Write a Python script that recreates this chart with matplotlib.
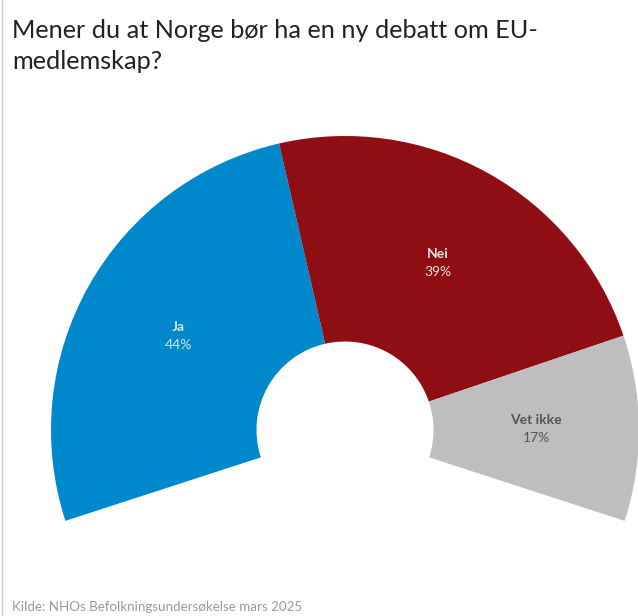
import matplotlib
matplotlib.use("Agg")
import matplotlib.pyplot as plt
import numpy as np

categories = ["Ja", "Nei", "Vet ikke"]
values = [44, 39, 17]
labels_pct = ["44%", "39%", "17%"]
colors = ["#0088CC", "#8E0E14", "#BEBEBE"]
label_colors = ["#E2E2E2", "#E2E2E2", "#555555"]
title_lines = ["Mener du at Norge bør ha en ny debatt om EU-", "medlemskap?"]
source = "Kilde: NHOs Befolkningsundersøkelse mars 2025"

W, H = 638, 616
fig = plt.figure(figsize=(W / 100, H / 100), dpi=100)
ax = fig.add_axes([0, 0, 1, 1])

span = 216.0
start = 198.0
cx, cy = 345, H - 430
r_out, r_in = 294, 88.5

fracs = [v / sum(values) * span / 360 for v in values]
ax.pie(fracs, normalize=False, startangle=start, counterclock=False,
       colors=colors, radius=r_out, center=(cx, cy),
       wedgeprops=dict(width=r_out - r_in, linewidth=0))

ax.set_xlim(0, W)
ax.set_ylim(0, H)
ax.set_aspect("equal")
ax.axis("off")

ang = start
r_lab = (r_out + r_in) / 2
for cat, pct, f, lc in zip(categories, labels_pct, fracs, label_colors):
    a0 = ang
    ang -= f * 360
    mid = np.deg2rad((a0 + ang) / 2)
    x = cx + r_lab * np.cos(mid)
    y = cy + r_lab * np.sin(mid)
    ax.text(x, y + 9, cat, ha="center", va="center", fontsize=10,
            fontweight="bold", color=lc, family="Lato")
    ax.text(x, y - 9, pct, ha="center", va="center", fontsize=10,
            color=lc, family="Lato")

for i, line in enumerate(title_lines):
    fig.text(12 / W, 1 - (38 + 31 * i) / H, line, ha="left", va="baseline",
             fontsize=18.2, color="#222222", family="Lato")
fig.text(12 / W, 1 - 611 / H, source, ha="left", va="baseline", fontsize=9.6,
         color="#9A9A9A", family="Lato")

ax.plot([2, 2], [0, H], color="#CCCCCC", lw=1)

fig.savefig("out.png", dpi=100)
